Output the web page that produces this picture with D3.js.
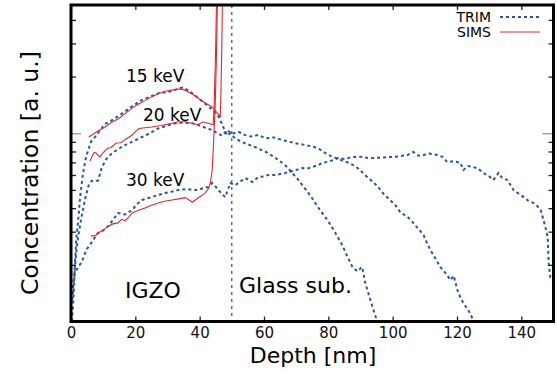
<html>
<head>
  <script src="https://d3js.org/d3.v7.min.js"></script>
  <style>
    body { margin: 0; background: #fff; }
    text { font-family: "DejaVu Sans", Verdana, sans-serif; }
  </style>
</head>
<body>
  <div id="chart"></div>

  <script type="text/javascript">

    // depth [nm], concentration [a. u.]
    var trim15 = [[0.3,1.0],[0.6,1.2],[0.9,1.45],[1.2,2.0],[1.6,2.7],[2.2,3.4],[2.8,4.5],[3.7,6.1],[4.7,7.5],[6.2,9.0],[8.0,9.8],[10.6,11.2],[13.0,11.8],[15.5,12.6],[19.0,13.9],[22,15.0],[25.2,15.8],[27.5,16.4],[30,16.5],[32.5,17.0],[34.5,17.5],[36.5,16.9],[39.5,15.4],[42,14.2],[44,13.3],[46,12.2],[47.3,10.8],[48.6,9.7],[49.5,10.0],[51,9.4],[53,9.0],[56,8.6],[58.2,8.3],[61,7.9],[63.5,7.4],[66.5,6.8],[68.8,6.15],[70.5,5.7],[71.9,5.3],[73.5,4.9],[75,4.5],[77,4.0],[78.1,3.77],[80,3.4],[82.2,2.95],[84.3,2.55],[86,2.2],[87.5,1.95],[89,1.85],[90.5,1.95],[91.5,1.6],[92.8,1.35],[93.7,1.2],[95.2,1.0]];
    var trim20 = [[0.3,1.3],[0.9,1.7],[1.6,2.3],[2.2,2.8],[3.1,3.46],[4.4,4.5],[5.5,5.3],[6.5,5.6],[8.4,5.6],[9.6,6.6],[11,7.3],[12.8,7.85],[14.5,8.2],[16.8,8.66],[19.5,9.1],[22.1,9.55],[24.5,10.0],[27.1,10.6],[30,11.0],[32.4,11.3],[35,11.4],[37.7,11.3],[40,11.0],[41.7,10.7],[43.9,10.4],[45.5,10.0],[47,9.7],[48.5,10.4],[50,9.9],[52,10.2],[54,9.8],[56,9.6],[58.2,9.8],[60.5,9.4],[63,9.5],[65.7,9.2],[68,9.0],[70.5,8.8],[72.8,8.66],[75,8.5],[76.9,8.3],[79.1,7.85],[80.5,7.6],[82.2,7.4],[84,7.2],[86,7.0],[87.5,6.8],[89.3,6.5],[91,6.1],[92.4,5.78],[94,5.5],[95.5,5.18],[97,4.8],[98.7,4.5],[100.8,4.16],[102.4,3.8],[104.6,3.6],[106.4,3.34],[108,3.1],[109.6,2.88],[110.5,2.65],[111.7,2.4],[113,2.2],[114.8,1.95],[116.5,1.8],[118,1.66],[119,1.75],[120.1,1.47],[121,1.35],[122,1.25],[123.5,1.15],[124.8,1.04]];
    var trim30 = [[0.3,1.3],[0.6,1.55],[1.2,1.8],[2.2,1.95],[3.1,2.04],[4.0,2.2],[4.7,2.4],[5.9,2.55],[7.5,2.81],[8.4,2.95],[10,3.05],[11.5,3.2],[13,3.45],[14.6,3.77],[16.8,3.7],[19.0,3.91],[20.5,4.2],[22.1,4.42],[23.5,4.5],[25.2,4.58],[27,4.7],[29.3,4.81],[31.5,4.9],[33.3,4.99],[36,5.05],[38,5.0],[39.5,4.99],[41,5.1],[42.6,5.18],[43.9,5.44],[45,5.2],[45.8,4.99],[47,4.75],[47.9,4.58],[48.8,5.0],[49.5,5.44],[51,5.3],[52,5.44],[54.2,5.78],[56.3,5.5],[58.2,5.85],[60,5.9],[61.3,6.0],[63.5,6.0],[66.6,6.15],[69,6.3],[71.9,6.54],[73.5,6.5],[75,6.61],[77,6.8],[78.1,6.95],[80.5,7.1],[83.1,7.39],[85,7.3],[87.5,7.47],[90,7.5],[92.4,7.39],[95,7.4],[98.7,7.47],[101,7.5],[103,7.6],[104.6,7.66],[106.4,7.95],[108,7.6],[109.6,7.66],[111.5,7.8],[113.9,7.66],[115.5,7.5],[117,7.03],[119,7.1],[121.1,6.95],[122,6.38],[123.5,6.7],[125.1,6.61],[126.5,6.5],[128.2,6.15],[130,5.9],[131.3,5.64],[132.2,5.9],[132.9,6.15],[134,5.8],[135.7,5.64],[137.6,4.99],[139,4.8],[140.7,4.58],[142,4.4],[143.8,4.26],[145,4.1],[146,3.91],[146.9,3.46],[147.6,3.1],[148.2,2.81],[148.5,2.04],[149.1,1.66]];

    var sims15 = [[5.5,9.55],[7,9.9],[8.5,10.3],[10.6,10.8],[12.5,11.4],[14.6,11.9],[16.5,12.6],[19.0,13.6],[21,14.3],[23,14.9],[25,15.6],[27.1,16.2],[29.5,16.7],[32.4,17.1],[34.5,17.2],[36.4,16.6],[38,16.0],[39.5,15.4],[42,14.4],[43.9,13.8],[45.5,12.8],[46.4,12.3],[46.6,16],[46.9,30],[47.3,100]];
    var sims20 = [[5.9,7.1],[6.5,7.5],[7.2,7.9],[7.8,7.85],[9.0,7.47],[10,7.9],[11.5,8.35],[12.5,8.4],[14.0,8.87],[15.5,8.9],[17,9.3],[19.0,9.78],[20.0,10.2],[21.2,10.6],[23,10.7],[25.2,10.8],[28,11.0],[31.4,11.3],[33.5,11.5],[35.5,11.5],[37.5,11.3],[39.5,11.1],[41,11.5],[42.6,11.3],[44.2,11.1],[44.5,14],[44.9,25],[45.6,100]];
    var sims30 = [[6.2,2.85],[7.5,2.85],[8.4,2.95],[10,3.05],[11.5,3.2],[13,3.3],[14.6,3.34],[15.8,3.5],[16.8,3.42],[18,3.6],[19,3.77],[21,3.9],[23,4.01],[25,4.15],[27.1,4.26],[29,4.35],[31.4,4.42],[33.5,4.48],[35.5,4.55],[36.5,4.45],[37.7,4.3],[39.5,4.53],[41.7,4.81],[42.8,5.1],[43.3,5.44],[43.7,6.0],[43.9,6.38],[44.2,8.1],[44.5,10.5],[44.8,13.3],[45.2,25],[45.8,100]];

    var xTicks = [0, 20, 40, 60, 80, 100, 120, 140];
    var yTicks = [2, 3, 4, 5, 6, 7, 8, 9, 10, 20, 30, 40];
    var interfaceDepth = 50;

    var trimColor = "#2456a8";
    var simsColor = "#e8262b";

    // plot box in pixels
    var boxL = 71, boxR = 553.5, boxT = 5, boxB = 321.5;

    var x = d3.scaleLinear().domain([0, 150]).range([boxL, boxR]);
    var y = d3.scaleLog().domain([1, 48]).range([boxB, boxT]);

    var svg = d3.select('#chart')
                .append('svg')
                  .attr('width', 557)
                  .attr('height', 374);

    svg.append('defs').append('clipPath')
         .attr('id', 'plot-clip')
       .append('rect')
         .attr('x', boxL).attr('y', boxT)
         .attr('width', boxR - boxL).attr('height', boxB - boxT);

    var line = d3.line()
                 .x(function(d) { return x(d[0]); })
                 .y(function(d) { return y(d[1]); });

    var plot = svg.append('g').attr('clip-path', 'url(#plot-clip)');

    // IGZO / glass interface
    plot.append('line')
          .attr('x1', x(interfaceDepth)).attr('x2', x(interfaceDepth))
          .attr('y1', boxT).attr('y2', boxB)
          .attr('stroke', '#222')
          .attr('stroke-width', 1)
          .attr('stroke-dasharray', '3,4');

    [trim15, trim20, trim30].forEach(function(s) {
      plot.append('path')
            .datum(s)
            .attr('d', line)
            .attr('fill', 'none')
            .attr('stroke', trimColor)
            .attr('stroke-width', 2)
            .attr('stroke-dasharray', '3,3');
    });

    [sims15, sims20, sims30].forEach(function(s) {
      plot.append('path')
            .datum(s)
            .attr('d', line)
            .attr('fill', 'none')
            .attr('stroke', simsColor)
            .attr('stroke-width', 1.1);
    });

    // axes (ticks point inwards, mirrored on all sides)
    var xBottom = svg.append('g')
                     .attr('transform', 'translate(0,' + boxB + ')')
                     .call(d3.axisBottom(x).tickValues(xTicks).tickSize(-5).tickPadding(6));
    xBottom.selectAll('text').style('font-size', '15px').attr('fill', '#111')
           .style('font-family', '"DejaVu Sans", Verdana, sans-serif');

    svg.append('g')
         .attr('transform', 'translate(0,' + boxT + ')')
         .call(d3.axisTop(x).tickValues(xTicks).tickSize(-5).tickFormat(''));

    var yLeft = svg.append('g')
                   .attr('transform', 'translate(' + boxL + ',0)')
                   .call(d3.axisLeft(y).tickValues(yTicks).tickSize(-5).tickFormat(''));
    var yRight = svg.append('g')
                    .attr('transform', 'translate(' + boxR + ',0)')
                    .call(d3.axisRight(y).tickValues(yTicks).tickSize(-5).tickFormat(''));

    svg.selectAll('.domain').remove();
    svg.selectAll('.tick line').attr('stroke', '#222').attr('stroke-width', 1.3);

    yLeft.selectAll('.tick line')
         .filter(function(d) { return d === 10; })
         .attr('x2', 10).attr('stroke', '#999');
    yRight.selectAll('.tick line')
          .filter(function(d) { return d === 10; })
          .attr('x2', -11).attr('stroke', '#999');

    svg.append('rect')
         .attr('x', boxL).attr('y', boxT)
         .attr('width', boxR - boxL).attr('height', boxB - boxT)
         .attr('fill', 'none')
         .attr('stroke', '#000')
         .attr('stroke-width', 3);

    // axis titles
    svg.append('text')
         .attr('x', 313).attr('y', 363)
         .attr('text-anchor', 'middle')
         .style('font-size', '22px')
         .text('Depth [nm]');

    svg.append('text')
         .attr('transform', 'translate(38,173) rotate(-90)')
         .attr('text-anchor', 'middle')
         .style('font-size', '23.5px')
         .text('Concentration [a. u.]');

    // annotations
    var notes = [
      {t: '15 keV', x: 126, y: 82, s: 17},
      {t: '20 keV', x: 143, y: 121, s: 17},
      {t: '30 keV', x: 126, y: 186, s: 17},
      {t: 'IGZO', x: 125, y: 298, s: 22},
      {t: 'Glass sub.', x: 239, y: 293, s: 22}
    ];
    svg.selectAll('.note')
         .data(notes)
         .enter().append('text')
           .attr('class', 'note')
           .attr('x', function(d) { return d.x; })
           .attr('y', function(d) { return d.y; })
           .style('font-size', function(d) { return d.s + 'px'; })
           .text(function(d) { return d.t; });

    // legend
    var legend = [
      {name: 'TRIM', color: trimColor, dash: '3,3', w: 2},
      {name: 'SIMS', color: simsColor, dash: null, w: 1.2}
    ];
    var lg = svg.selectAll('.legend')
                .data(legend)
                .enter().append('g')
                  .attr('class', 'legend')
                  .attr('transform', function(d, i) { return 'translate(0,' + (17 + i * 15) + ')'; });
    lg.append('text')
        .attr('x', 491).attr('y', 5)
        .attr('text-anchor', 'end')
        .style('font-size', '14px')
        .text(function(d) { return d.name; });
    lg.append('line')
        .attr('x1', 500).attr('x2', 540)
        .attr('y1', 0).attr('y2', 0)
        .attr('stroke', function(d) { return d.color; })
        .attr('stroke-width', function(d) { return d.w; })
        .attr('stroke-dasharray', function(d) { return d.dash; });

  </script>
</body>
</html>
